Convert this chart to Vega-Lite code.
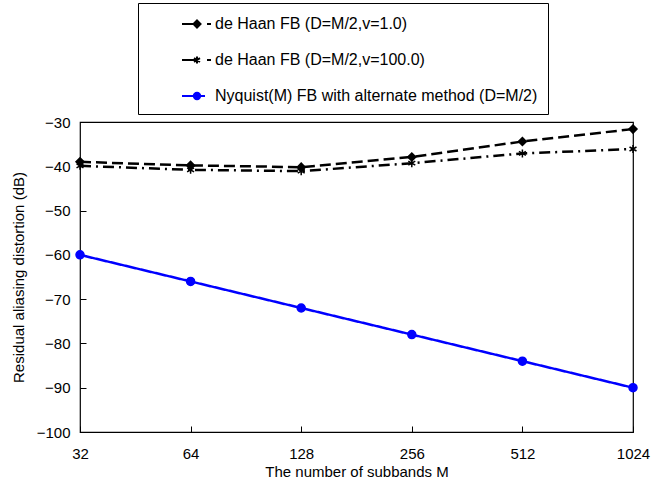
{
  "$schema": "https://vega.github.io/schema/vega-lite/v6.json",
  "autosize": "none",
  "width": 553,
  "height": 310,
  "padding": {"left": 80, "top": 122, "right": 20, "bottom": 50},
  "background": "white",
  "config": {
    "font": "Liberation Sans",
    "view": {"stroke": "black", "strokeWidth": 1.2},
    "axis": {"grid": false, "domain": false, "labelColor": "black", "titleColor": "black", "tickColor": "black", "labelFont": "Liberation Sans", "titleFont": "Liberation Sans", "titleFontWeight": "normal", "labelFlush": false}
  },
  "data": {"values": [
    {"M": 32, "series": "de Haan FB (D=M/2,v=1.0)", "val": -39.0},
    {"M": 64, "series": "de Haan FB (D=M/2,v=1.0)", "val": -39.8},
    {"M": 128, "series": "de Haan FB (D=M/2,v=1.0)", "val": -40.2},
    {"M": 256, "series": "de Haan FB (D=M/2,v=1.0)", "val": -37.9},
    {"M": 512, "series": "de Haan FB (D=M/2,v=1.0)", "val": -34.4},
    {"M": 1024, "series": "de Haan FB (D=M/2,v=1.0)", "val": -31.6},
    {"M": 32, "series": "de Haan FB (D=M/2,v=100.0)", "val": -39.9},
    {"M": 64, "series": "de Haan FB (D=M/2,v=100.0)", "val": -40.8},
    {"M": 128, "series": "de Haan FB (D=M/2,v=100.0)", "val": -41.1},
    {"M": 256, "series": "de Haan FB (D=M/2,v=100.0)", "val": -39.3},
    {"M": 512, "series": "de Haan FB (D=M/2,v=100.0)", "val": -37.1},
    {"M": 1024, "series": "de Haan FB (D=M/2,v=100.0)", "val": -36.1},
    {"M": 32, "series": "Nyquist(M) FB with alternate method (D=M/2)", "val": -60},
    {"M": 64, "series": "Nyquist(M) FB with alternate method (D=M/2)", "val": -66},
    {"M": 128, "series": "Nyquist(M) FB with alternate method (D=M/2)", "val": -72},
    {"M": 256, "series": "Nyquist(M) FB with alternate method (D=M/2)", "val": -78},
    {"M": 512, "series": "Nyquist(M) FB with alternate method (D=M/2)", "val": -84},
    {"M": 1024, "series": "Nyquist(M) FB with alternate method (D=M/2)", "val": -90}
  ]},
  "encoding": {
    "x": {"field": "M", "type": "quantitative",
      "scale": {"type": "log", "base": 2, "domain": [32, 1024], "nice": false},
      "axis": {"values": [32, 64, 128, 256, 512, 1024], "tickSize": -6, "labelPadding": 20, "labelFontSize": 15, "title": "The number of subbands M", "titleFontSize": 15, "titlePadding": 3, "format": "d"}},
    "y": {"field": "val", "type": "quantitative",
      "scale": {"domain": [-100, -30], "nice": false, "zero": false},
      "axis": {"values": [-100, -90, -80, -70, -60, -50, -40, -30], "tickSize": -6, "labelPadding": 16, "labelFontSize": 15, "title": "Residual aliasing distortion (dB)", "titleFontSize": 15, "titlePadding": 10}}
  },
  "layer": [
    {
      "mark": {"type": "line", "strokeWidth": 2.5},
      "encoding": {
        "stroke": {"field": "series", "type": "nominal", "scale": {"domain": ["Nyquist(M) FB with alternate method (D=M/2)", "de Haan FB (D=M/2,v=1.0)", "de Haan FB (D=M/2,v=100.0)"], "range": ["#0000ff", "black", "black"]}, "legend": null},
        "strokeDash": {"field": "series", "type": "nominal", "scale": {"domain": ["Nyquist(M) FB with alternate method (D=M/2)", "de Haan FB (D=M/2,v=1.0)", "de Haan FB (D=M/2,v=100.0)"], "range": [[1, 0], [11, 5], [11, 5, 2, 5]]}, "legend": null}
      }
    },
    {
      "mark": {"type": "point", "filled": true, "size": 64, "strokeWidth": 1.5, "opacity": 1},
      "encoding": {
        "shape": {"field": "series", "type": "nominal", "scale": {"domain": ["Nyquist(M) FB with alternate method (D=M/2)", "de Haan FB (D=M/2,v=1.0)", "de Haan FB (D=M/2,v=100.0)"], "range": ["circle", "diamond", "M0,-1V1M-0.87,-0.5L0.87,0.5M-0.87,0.5L0.87,-0.5"]}, "legend": null},
        "stroke": {"field": "series", "type": "nominal", "legend": null},
        "fill": {"field": "series", "type": "nominal", "scale": {"domain": ["Nyquist(M) FB with alternate method (D=M/2)", "de Haan FB (D=M/2,v=1.0)", "de Haan FB (D=M/2,v=100.0)"], "range": ["#0000ff", "black", "black"]}, "legend": null}
      }
    },
    {
      "mark": {"type": "point", "filled": true, "size": 64, "opacity": 0},
      "encoding": {
        "color": {"field": "series", "type": "nominal", "scale": {"domain": ["de Haan FB (D=M/2,v=1.0)", "de Haan FB (D=M/2,v=100.0)", "Nyquist(M) FB with alternate method (D=M/2)"], "range": ["black", "black", "#0000ff"]},
          "legend": {
            "orient": "none", "legendX": 58, "legendY": -119, "padding": 10,
            "strokeColor": "black", "fillColor": "white", "title": null,
            "rowPadding": 17, "labelOffset": 45, "labelFontSize": 16, "labelFont": "Liberation Sans", "labelColor": "black", "labelLimit": 500,
            "symbolSize": 400, "symbolStrokeWidth": 2, "symbolOpacity": 1,
            "encode": {"symbols": {"update": {
              "shape": {"signal": "indexof(datum.value, 'Nyquist') >= 0 ? 'M2.3,0H4.6M3.48,0A0.32,0.32 0 1,0 4.12,0A0.32,0.32 0 1,0 3.48,0Z' : indexof(datum.value, '100.0') >= 0 ? 'M2.3,0H3.8M3.8,-0.35V0.35M3.5,-0.18L4.1,0.18M3.5,0.18L4.1,-0.18M4.8,0H5.2' : 'M2.3,0H3.8M3.8,-0.35L4.15,0L3.8,0.35L3.45,0ZM4.8,0H5.2'"},
              "fill": {"scale": "color", "field": "value"},
              "stroke": {"scale": "color", "field": "value"},
              "strokeWidth": {"value": 2},
              "size": {"value": 400},
              "opacity": {"value": 1}
            }}}
          }}
      }
    }
  ]
}
